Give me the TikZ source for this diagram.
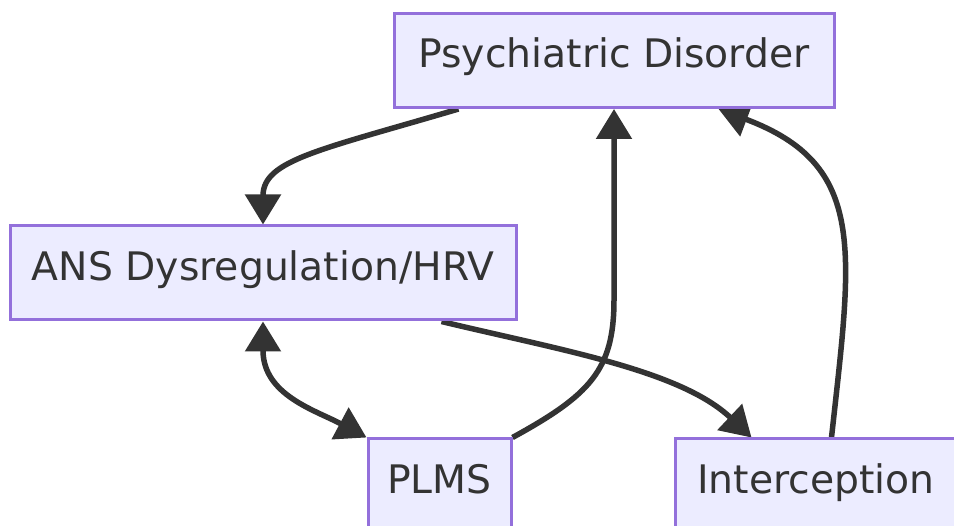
\documentclass[tikz,border=0pt]{standalone}
\usepackage{fontspec}
\setmainfont{DejaVu Sans}
\usetikzlibrary{arrows.meta,calc}
\definecolor{boxfill}{HTML}{ECECFF}
\definecolor{boxline}{HTML}{9370DB}
\definecolor{edgecol}{HTML}{333333}
\definecolor{txtcol}{HTML}{333333}
\pgfdeclarelayer{edges}
\pgfsetlayers{edges,main}
\tikzset{
  nodebox/.style={draw=boxline, fill=boxfill, line width=3pt, inner sep=0pt,
    minimum height=94pt, text=txtcol, text height=25pt, text depth=10pt,
    font=\fontsize{39.3}{46}\selectfont},
  edge/.style={draw=edgecol, line width=5.5pt},
  >={Triangle[length=30pt,width=35pt]}
}
\begin{document}
\begin{tikzpicture}[x=1pt,y=-1pt]
\useasboundingbox (0,0) rectangle (954,526);
\node[nodebox, minimum width=440pt] (PD) at (614,60.5) {Psychiatric Disorder};
\node[nodebox, minimum width=506pt] (ANS) at (263,273) {ANS Dysregulation/HRV};
\node[nodebox, minimum width=143pt] (PLMS) at (439.5,486) {PLMS};
\node[nodebox, minimum width=282pt] (INT) at (816,486) {Interception};
\begin{pgfonlayer}{edges}
\fill[white] (0,0) rectangle (954,526);
\draw[edge,->] ($(PD.south west)+(66,0)$) .. controls (320,150) and (263,160) .. (ANS.north);
\draw[edge,<->] (ANS.south) .. controls (263,395) and (315,410) .. (PLMS.north west);
\draw[edge,->] (PLMS.north east) .. controls (590,395) and (614,370) .. (614,300) -- (PD.south);
\draw[edge,->] ($(ANS.south west)+(433,0)$) .. controls (560,350) and (680,370) .. ($(INT.north west)+(78,0)$);
\draw[edge,->] ($(INT.north west)+(158,0)$) .. controls (852,250) and (868,165) .. ($(PD.south west)+(326,0)$);
\end{pgfonlayer}
\end{tikzpicture}
\end{document}
